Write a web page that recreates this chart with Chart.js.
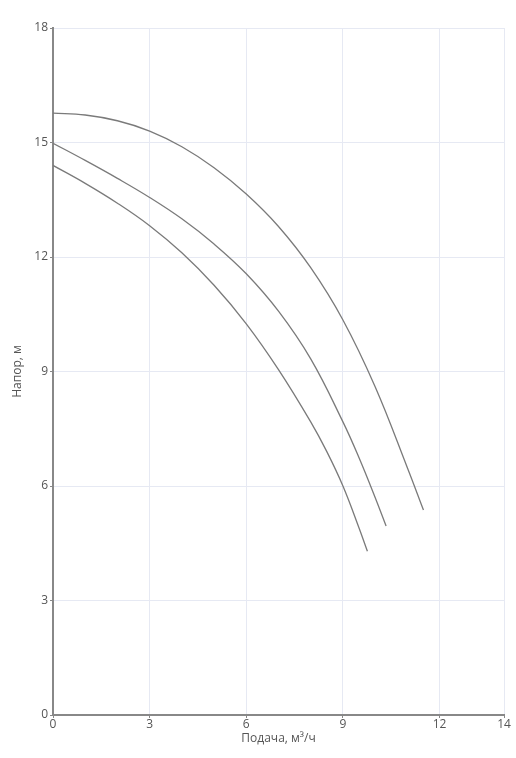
<!DOCTYPE html>
<html>
<head>
<meta charset="utf-8">
<script src="https://cdn.jsdelivr.net/npm/chart.js@4"></script>
<style>
  html, body { margin: 0; padding: 0; background: #fff; }
  #wrap { width: 516px; height: 758px; position: relative; }
</style>
</head>
<body>
<div id="wrap"><canvas id="chart"></canvas></div>
<script>
// pump curves (flow m3/h, head m)
const topFlow = [0, 1, 2, 3, 4, 5, 6, 7, 8, 9, 10, 11, 11.5];
const topHead = [15.77, 15.72, 15.57, 15.30, 14.89, 14.34, 13.65, 12.80, 11.72, 10.35, 8.60, 6.48, 5.37];

const midFlow = [0, 1, 2, 3, 4, 5, 6, 7, 8, 9, 9.5, 10, 10.34];
const midHead = [14.98, 14.53, 14.06, 13.56, 13.00, 12.34, 11.56, 10.58, 9.33, 7.68, 6.74, 5.70, 4.95];

const lowFlow = [0, 1, 2, 3, 4, 5, 6, 7, 8, 8.5, 9, 9.5, 9.76];
const lowHead = [14.40, 13.93, 13.41, 12.82, 12.11, 11.26, 10.25, 9.05, 7.68, 6.90, 6.00, 4.90, 4.29];

const xTicks = [0, 3, 6, 9, 12, 14];
const yTicks = [0, 3, 6, 9, 12, 15, 18];

function toPoints(xs, ys) {
    return xs.map((x, i) => ({ x: x, y: ys[i] }));
}

function curve(xs, ys) {
    return {
        data: toPoints(xs, ys),
        borderColor: '#7a7a7a',
        borderWidth: 1.3,
        pointRadius: 0,
        fill: false,
        tension: 0.4
    };
}

const ctx = document.getElementById('chart').getContext('2d');
new Chart(ctx, {
    type: 'line',
    data: {
        datasets: [
            curve(topFlow, topHead),
            curve(midFlow, midHead),
            curve(lowFlow, lowHead)
        ]
    },
    options: {
        responsive: true,
        maintainAspectRatio: false,
        animation: false,
        layout: { padding: { top: 28, right: 12, left: 10, bottom: 12 } },
        plugins: {
            legend: { display: false },
            tooltip: { enabled: false }
        },
        scales: {
            x: {
                type: 'linear',
                min: 0,
                max: 14,
                afterBuildTicks: scale => { scale.ticks = xTicks.map(v => ({ value: v })); },
                afterFit: scale => { scale.height = 31; },
                border: { color: '#888', width: 2 },
                grid: { color: '#e6e9f3', tickColor: '#888', tickLength: 3 },
                ticks: { color: '#555', padding: -1, font: { family: 'Open Sans', size: 12 } },
                title: {
                    display: true,
                    text: 'Подача, м³/ч',
                    color: '#555',
                    padding: { top: 0, bottom: 0 },
                    font: { family: 'Open Sans', size: 12 }
                }
            },
            y: {
                min: 0,
                max: 18,
                afterBuildTicks: scale => { scale.ticks = yTicks.map(v => ({ value: v })); },
                afterFit: scale => { scale.width = 43; },
                border: { color: '#888', width: 2 },
                grid: { color: '#e6e9f3', tickColor: '#888', tickLength: 3 },
                ticks: { color: '#555', padding: 2, font: { family: 'Open Sans', size: 12 } },
                title: {
                    display: true,
                    text: 'Напор, м',
                    color: '#555',
                    padding: { top: 0, bottom: 4 },
                    font: { family: 'Open Sans', size: 12 }
                }
            }
        }
    }
});
</script>
</body>
</html>
